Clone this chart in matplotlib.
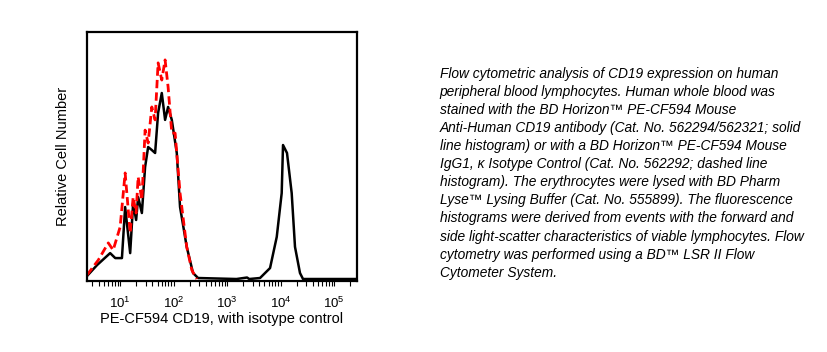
import matplotlib
matplotlib.use("Agg")
import matplotlib.pyplot as plt
from matplotlib.ticker import FixedLocator, LogLocator, NullFormatter

plt.rcParams['font.family'] = ['Liberation Sans', 'DejaVu Sans']
plt.rcParams['mathtext.fontset'] = 'custom'
plt.rcParams['mathtext.rm'] = 'Liberation Sans'

# CD19 stained sample (solid black histogram)
cd19_x = [2.4, 3.7, 6.5, 8.1, 10.8, 12.4, 15.4, 17.5, 19.9, 21.7, 25.5, 29.3,
          33.4, 39.1, 45.1, 51.3, 60.1, 69.3, 78.9, 92.5, 114.7, 132, 176, 231,
          287, 1500, 2366, 2600, 4140, 6370, 8500, 10520, 11140, 13220, 16180,
          18660, 23130, 26350, 280000]
cd19_y = [0.02, 0.064, 0.112, 0.092, 0.092, 0.297, 0.112, 0.313, 0.245, 0.337,
          0.273, 0.458, 0.538, 0.526, 0.514, 0.675, 0.755, 0.647, 0.699, 0.647,
          0.514, 0.297, 0.137, 0.032, 0.012, 0.008, 0.014, 0.008, 0.012, 0.052,
          0.177, 0.353, 0.546, 0.514, 0.353, 0.137, 0.032, 0.008, 0.008]

# Isotype control (dashed red histogram)
iso_x = [2.4, 3.9, 6.0, 7.4, 10, 12.4, 15.4, 17.5, 19.9, 21.7, 25.5, 29.3,
         33.4, 39.1, 45.1, 51.3, 60.1, 69.3, 78.9, 92.5, 106.7, 132, 176, 219,
         271]
iso_y = [0.024, 0.084, 0.153, 0.124, 0.217, 0.434, 0.193, 0.337, 0.273, 0.418,
         0.325, 0.606, 0.554, 0.699, 0.647, 0.876, 0.807, 0.888, 0.779, 0.594,
         0.594, 0.353, 0.137, 0.044, 0.008]

caption = ("Flow cytometric analysis of CD19 expression on human\n"
           "peripheral blood lymphocytes. Human whole blood was\n"
           "stained with the BD Horizon\u2122 PE-CF594 Mouse\n"
           "Anti-Human CD19 antibody (Cat. No. 562294/562321; solid\n"
           "line histogram) or with a BD Horizon\u2122 PE-CF594 Mouse\n"
           "IgG1, \u03ba Isotype Control (Cat. No. 562292; dashed line\n"
           "histogram). The erythrocytes were lysed with BD Pharm\n"
           "Lyse\u2122 Lysing Buffer (Cat. No. 555899). The fluorescence\n"
           "histograms were derived from events with the forward and\n"
           "side light-scatter characteristics of viable lymphocytes. Flow\n"
           "cytometry was performed using a BD\u2122 LSR II Flow\n"
           "Cytometer System.")

fig = plt.figure(figsize=(8.28, 3.52), dpi=100)
ax = fig.add_axes([0.1045, 0.2017, 0.3267, 0.7074])

ax.plot(cd19_x, cd19_y, color='black', lw=1.8)
ax.plot(iso_x, iso_y, color='#ff0000', lw=2.0, ls=(0, (3, 1.5)))

ax.set_xscale('log')
ax.set_xlim(2.35, 2.7e5)
ax.set_ylim(0, 1)
ax.set_yticks([])
ax.xaxis.set_major_locator(FixedLocator([10, 100, 1000, 10000, 100000]))
ax.xaxis.set_minor_locator(LogLocator(base=10, subs=range(2, 10), numticks=20))
ax.xaxis.set_minor_formatter(NullFormatter())
ax.set_xticklabels(['$10^{1}$', '$10^{2}$', '$10^{3}$', '$10^{4}$', '$10^{5}$'])
ax.tick_params(axis='x', which='both', direction='out', length=3.5, width=0.8,
               labelsize=9.5, pad=7)
for s in ax.spines.values():
    s.set_linewidth(1.6)

ax.set_xlabel('PE-CF594 CD19, with isotype control', fontsize=10.5, labelpad=1)
ax.set_ylabel('Relative Cell Number', fontsize=10.5, labelpad=12)

fig.text(0.531, 0.81, caption, fontsize=9.9, style='italic', va='top',
         ha='left', linespacing=1.37)

fig.savefig('out.png', dpi=100)
